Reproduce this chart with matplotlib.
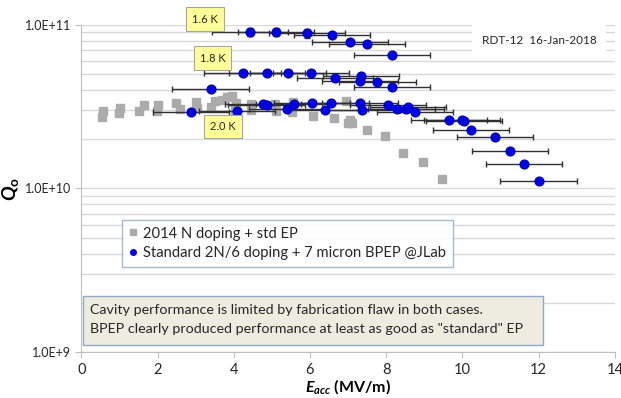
import matplotlib
matplotlib.use("Agg")
import matplotlib.pyplot as plt
from matplotlib.patches import Rectangle
from matplotlib.lines import Line2D
from matplotlib.ticker import LogLocator, FixedLocator, NullFormatter

plt.rcParams['font.family'] = ['Lato', 'DejaVu Sans']
plt.rcParams['mathtext.fontset'] = 'custom'
plt.rcParams['mathtext.it'] = 'Lato:italic:bold'
plt.rcParams['mathtext.rm'] = 'Lato:bold'
plt.rcParams['mathtext.bf'] = 'Lato:bold'

# 2014 N doping + std EP (gray squares)
gray_e = [0.56, 0.54, 1.02, 1.00, 1.64, 1.51, 2.01, 1.98, 2.48, 2.59, 3.01, 3.03,
          3.40, 3.50, 3.69, 3.82, 3.95, 4.05, 4.03, 4.45, 4.45, 5.08, 5.10, 5.55,
          5.53, 6.07, 6.63, 6.94, 6.99, 7.10, 7.05, 7.49, 7.97, 8.44, 8.96, 9.46]
gray_q = [2.96e10, 2.74e10, 3.11e10, 2.88e10, 3.22e10, 2.96e10, 3.24e10, 2.98e10,
          3.33e10, 3.06e10, 3.36e10, 3.11e10, 3.15e10, 3.43e10, 3.48e10, 3.63e10,
          3.68e10, 3.33e10, 3.02e10, 3.31e10, 3.02e10, 3.27e10, 2.98e10, 3.40e10,
          2.95e10, 2.77e10, 2.70e10, 3.45e10, 2.50e10, 2.50e10, 2.62e10, 2.28e10,
          2.10e10, 1.65e10, 1.45e10, 1.14e10]

# Standard 2N/6 doping + 7 micron BPEP @JLab (blue circles)
blue_e = [4.42, 5.10, 5.92, 6.58, 7.05, 7.50, 8.15,
          4.23, 4.88, 5.42, 6.03, 6.65, 7.33, 7.31, 7.77, 8.16,
          3.39,
          2.87, 4.08, 4.77, 4.86, 5.39, 5.59, 6.05, 6.39, 6.54, 7.32, 7.36, 8.04,
          8.29, 8.52, 8.58, 8.75, 9.65, 9.99, 10.05, 10.22, 10.86, 11.26, 11.61, 12.0]
blue_q = [9.1e10, 9.1e10, 8.9e10, 8.7e10, 7.85e10, 7.7e10, 6.55e10,
          5.08e10, 5.11e10, 5.11e10, 5.08e10, 4.72e10, 4.90e10, 4.56e10, 4.48e10, 4.19e10,
          4.06e10,
          2.92e10, 2.98e10, 3.27e10, 3.24e10, 3.05e10, 3.27e10, 3.32e10, 3.02e10, 3.32e10,
          3.32e10, 3.02e10, 3.24e10, 3.05e10, 3.06e10, 3.16e10, 2.92e10, 2.61e10, 2.63e10,
          2.60e10, 2.29e10, 2.07e10, 1.70e10, 1.41e10, 1.11e10]
blue_xerr = [1.0] * len(blue_e)
blue_yerr_rel = [0.06, 0.06, 0.06] + [0.0] * (len(blue_e) - 3)
blue_yerr = [q * r for q, r in zip(blue_q, blue_yerr_rel)]

temp_labels = ["1.6 K", "1.8 K", "2.0 K"]
temp_label_e = [3.24, 3.44, 3.71]
temp_label_q = [1.088e11, 6.28e10, 2.39e10]

gray_label = "2014 N doping + std EP"
blue_label = "Standard 2N/6 doping + 7 micron BPEP @JLab"

fig = plt.figure(figsize=(6.21, 3.98), dpi=100)
ax = fig.add_axes([0.131, 0.1156, 0.859, 0.8216])

ax.set_yscale('log')
ax.set_xlim(0, 14)
ax.set_ylim(1e9, 1e11)

ax.yaxis.set_major_locator(FixedLocator([1e9, 1e10, 1e11]))
ax.set_yticklabels(["1.0E+9", "1.0E+10", "1.0E+11"])
ax.yaxis.set_minor_locator(LogLocator(base=10, subs=range(2, 10)))
ax.yaxis.set_minor_formatter(NullFormatter())
ax.set_xticks(range(0, 15, 2))

ax.grid(True, axis='y', which='both', color='#d9d9d9', lw=1)
ax.set_axisbelow(True)
for s in ['top', 'right']:
    ax.spines[s].set_visible(False)
for s in ['left', 'bottom']:
    ax.spines[s].set_color('#bfbfbf')
ax.tick_params(axis='both', which='major', length=4)
ax.tick_params(axis='x', labelsize=10.5, pad=4, colors='#bfbfbf', labelcolor='#262626')
ax.tick_params(axis='y', which='major', labelsize=9, colors='#bfbfbf', labelcolor='#262626')
ax.tick_params(axis='y', which='minor', length=0)

ax.plot(gray_e, gray_q, 's', color='#ababab', ms=5.5, mec='#ababab', zorder=2)
ax.errorbar(blue_e, blue_q, xerr=blue_xerr, yerr=blue_yerr, fmt='o', color='#0000ee',
            mec='#0000c0', ms=6.3, ecolor='#303030', elinewidth=1, capsize=2.5, zorder=3)

for lab, e, q in zip(temp_labels, temp_label_e, temp_label_q):
    ax.text(e, q, lab, ha='center', va='center', fontsize=8, color='#262626',
            bbox=dict(boxstyle='square,pad=0.55', fc='#ffff99', ec='#a6a6a6', lw=0.8),
            zorder=5, clip_on=False)

ax.text(0.858, 0.954, "RDT-12  16-Jan-2018", transform=ax.transAxes, ha='center',
        va='center', fontsize=8.5, color='#262626',
        bbox=dict(boxstyle='square,pad=0.8', fc='white', ec='none'), zorder=4)

handles = [Line2D([], [], ls='none', marker='s', color='#ababab', ms=4),
           Line2D([], [], ls='none', marker='o', color='#0000ee', ms=4)]
leg = ax.legend(handles, [gray_label, blue_label], loc='upper left',
                bbox_to_anchor=(0.076, 0.404), borderaxespad=0, fontsize=10.6,
                handlelength=0.6, handletextpad=0.4, frameon=True, fancybox=False,
                borderpad=0.45, labelspacing=0.4)
leg.get_frame().set_edgecolor('#8fa8c4')
leg.get_frame().set_linewidth(1)
for t in leg.get_texts():
    t.set_color('#262626')

ax.add_patch(Rectangle((0.003, 0.0214), 0.862, 0.149, transform=ax.transAxes,
                       fc='#eeece1', ec='#8fa8c4', lw=1, zorder=4))
ax.text(0.016, 0.128, "Cavity performance is limited by fabrication flaw in both cases.",
        transform=ax.transAxes, fontsize=10.3, va='center', ha='left', color='#262626', zorder=5)
ax.text(0.016, 0.070, 'BPEP clearly produced performance at least as good as "standard" EP',
        transform=ax.transAxes, fontsize=10.3, va='center', ha='left', color='#262626', zorder=5)

ax.set_xlabel(r'$E_{acc}$ (MV/m)', fontsize=11.5, fontweight='bold', labelpad=0)
ax.set_ylabel(r'$Q_{\mathrm{o}}$', fontsize=14, fontweight='bold', labelpad=3)

fig.savefig("out.png", dpi=100)
